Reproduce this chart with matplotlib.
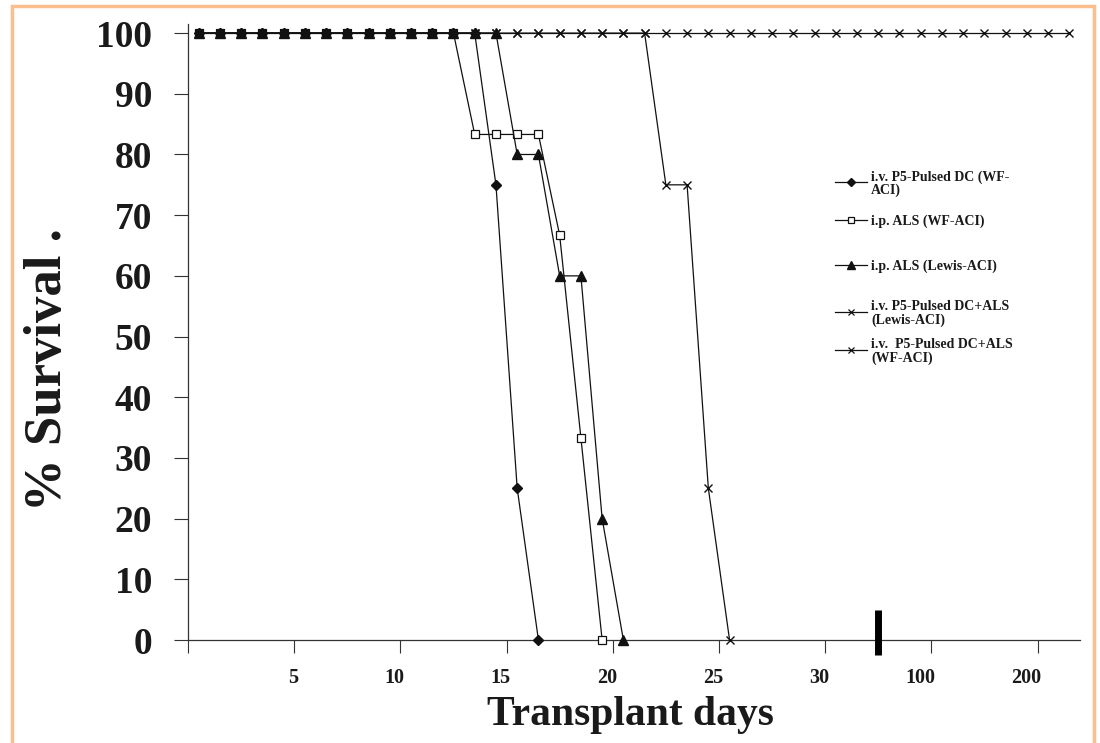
import numpy as np
import matplotlib
matplotlib.use("Agg")
import matplotlib.pyplot as plt
from matplotlib.transforms import ScaledTranslation
from matplotlib.patches import Rectangle
from matplotlib.lines import Line2D

# ---------------- data ----------------
# survival (%) per consecutive category slot on the x axis (slot 1, 2, 3, ...)
dc_wf = [100, 100, 100, 100, 100, 100, 100, 100, 100, 100, 100, 100, 100, 100,
         75, 25, 0]
als_wf = [100, 100, 100, 100, 100, 100, 100, 100, 100, 100, 100, 100, 100,
          83.3, 83.3, 83.3, 83.3, 66.7, 33.3, 0]
als_lewis = [100, 100, 100, 100, 100, 100, 100, 100, 100, 100, 100, 100, 100, 100, 100,
             80, 80, 60, 60, 20, 0]
dcals_lewis = [100, 100, 100, 100, 100, 100, 100, 100, 100, 100, 100, 100, 100, 100, 100,
               100, 100, 100, 100, 100, 100, 100, 75, 75, 25, 0]
dcals_wf = [100, 100, 100, 100, 100, 100, 100, 100, 100, 100, 100, 100, 100, 100, 100,
            100, 100, 100, 100, 100, 100, 100, 100, 100, 100, 100, 100, 100, 100, 100,
            100, 100, 100, 100, 100, 100, 100, 100, 100, 100, 100, 100]

n_slots = 42
x_tick_slots = [0, 5, 10, 15, 20, 25, 30, 35, 40]
x_tick_labels = ["", "5", "10", "15", "20", "25", "30", "100", "200"]
y_ticks = [0, 10, 20, 30, 40, 50, 60, 70, 80, 90, 100]
break_slot = 32.5

legend_labels = ["i.v. P5-Pulsed DC (WF-\nACI)",
                 "i.p. ALS (WF-ACI)",
                 "i.p. ALS (Lewis-ACI)",
                 "i.v. P5-Pulsed DC+ALS\n(Lewis-ACI)",
                 "i.v.  P5-Pulsed DC+ALS\n(WF-ACI)"]

# ---------------- figure ----------------
W, H = 1100, 743
fig = plt.figure(figsize=(W / 100, H / 100), dpi=100)
fig.patch.set_facecolor("white")
SERIF = ["Liberation Serif", "DejaVu Serif"]

ax_left, ax_right, ax_bottom_px, ax_top_px = 188, 1080, 640, 24
ax = fig.add_axes([ax_left / W, 1 - ax_bottom_px / H,
                   (ax_right - ax_left) / W, (ax_bottom_px - ax_top_px) / H])
ax.set_xlim(0, n_slots)
ax.set_ylim(0, 101.5)

def xs(vals):
    return np.arange(1, len(vals) + 1) - 0.5

lc = "#111111"
styles = [
    (als_wf, dict(marker="s", ms=5.5, mfc="white", mec=lc, mew=0.9)),
    (dc_wf, dict(marker="D", ms=5, mfc=lc, mec=lc)),
    (als_lewis, dict(marker="^", ms=7, mfc=lc, mec=lc)),
    (dcals_wf, dict(marker="x", ms=6, mec=lc, mew=1.0)),
    (dcals_lewis, dict(marker="x", ms=6, mec=lc, mew=1.0)),
]
for vals, st in styles:
    ax.plot(xs(vals), vals, color=lc, lw=0.9, clip_on=False, zorder=3, **st)

# axis break bar
ax.plot([break_slot, break_slot], [-2.5, 5], color="black", lw=5,
        solid_capstyle="butt", clip_on=False, zorder=4)

for s in ["top", "right"]:
    ax.spines[s].set_visible(False)
for s in ["left", "bottom"]:
    ax.spines[s].set_linewidth(0.9)
    ax.spines[s].set_color("#333333")

ax.set_yticks(y_ticks)
ax.set_yticklabels([str(v) for v in y_ticks])
ax.tick_params(axis="y", direction="out", length=10, width=0.8, pad=16,
               labelsize=27, colors="#333333", labelcolor="#1a1a1a")
for lab in ax.get_yticklabels():
    lab.set_fontfamily(SERIF)
    lab.set_fontweight("bold")

ax.set_xticks(x_tick_slots)
ax.set_xticklabels(x_tick_labels)
ax.tick_params(axis="x", direction="out", length=9, width=0.8, pad=11,
               labelsize=14.5, colors="#333333", labelcolor="#1a1a1a")
off = ScaledTranslation(4 / 100, 0, fig.dpi_scale_trans)
for lab in ax.get_xticklabels():
    lab.set_fontfamily(SERIF)
    lab.set_fontweight("bold")
    lab.set_ha("right")
    lab.set_transform(lab.get_transform() + off)

ax.set_xlabel("Transplant days", fontsize=30, fontweight="bold",
              family=SERIF, color="#1a1a1a", va="baseline")
ax.xaxis.set_label_coords((630 - ax_left) / (ax_right - ax_left),
                          (ax_bottom_px - 725) / (ax_bottom_px - ax_top_px))
ax.set_ylabel("% Survival .", fontsize=38, fontweight="bold",
              family=SERIF, color="#1a1a1a", va="center")
ax.yaxis.set_label_coords((48 - ax_left) / (ax_right - ax_left),
                          (ax_bottom_px - 370) / (ax_bottom_px - ax_top_px))

# legend (drawn inside the axes, handle aligned with first text line)
leg_marks = [dict(marker="D", ms=4, mfc=lc, mec=lc),
             dict(marker="s", ms=4.5, mfc="white", mec=lc, mew=0.9),
             dict(marker="^", ms=6, mfc=lc, mec=lc),
             dict(marker="x", ms=5, mec=lc, mew=0.9),
             dict(marker="x", ms=5, mec=lc, mew=0.9)]
leg_y_px = [182, 220, 265, 312, 350]
for lbl, mk, ypx in zip(legend_labels, leg_marks, leg_y_px):
    yf = 1 - ypx / H
    fig.add_artist(Line2D([835 / W, 867 / W], [yf, yf], color=lc, lw=0.9))
    fig.add_artist(Line2D([851 / W], [yf], color=lc, lw=0, **mk))
    fig.text(871 / W, yf, lbl, fontsize=10, fontweight="bold", family=SERIF,
             color="#1a1a1a", va="center_baseline", ha="left", linespacing=1.0)

# peach frame
fig.add_artist(Rectangle((12 / W, -0.05), (1094 - 12) / W, 1 - 6 / H + 0.05,
                         transform=fig.transFigure, fill=False,
                         edgecolor="#FBBE8E", lw=2.5))

fig.savefig("out.png", dpi=100)
